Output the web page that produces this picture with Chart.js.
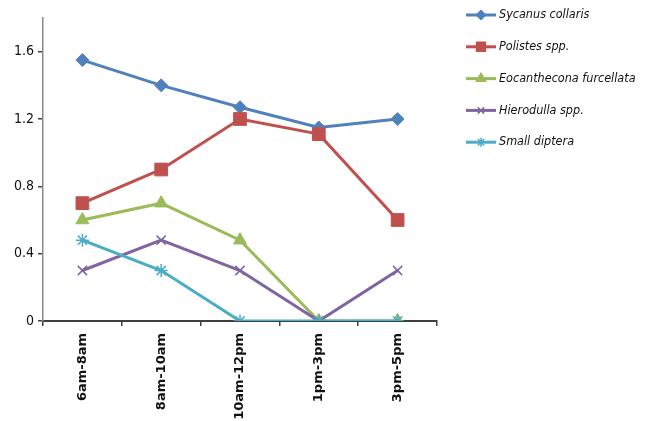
<!DOCTYPE html>
<html lang="en">
<head>
<meta charset="UTF-8">
<title>Predators by time of day</title>
<script src="https://cdn.jsdelivr.net/npm/chart.js"></script>
<style>
  html, body { margin: 0; padding: 0; background: #fff; }
  .wrap { width: 650px; height: 421px; position: relative; }
</style>
</head>
<body>
<div class="wrap">
  <canvas id="myChart" width="650" height="421"></canvas>
</div>
<script>
  // data
  const periodos = ["6am-8am", "8am-10am", "10am-12pm", "1pm-3pm", "3pm-5pm"];
  const sycanus = [1.55, 1.4, 1.27, 1.15, 1.2];
  const polistes = [0.7, 0.9, 1.2, 1.11, 0.6];
  const eocanthecona = [0.6, 0.7, 0.48, 0, 0];
  const hierodulla = [0.3, 0.48, 0.3, 0, 0.3];
  const diptera = [0.48, 0.3, 0, 0, 0];
  const yTicks = [0, 0.4, 0.8, 1.2, 1.6];
  const nomes = ["Sycanus collaris", "Polistes spp.", "Eocanthecona furcellata", "Hierodulla spp.", "Small diptera"];

  const cores = ["#4F81BD", "#C0504D", "#9BBB59", "#8064A2", "#4BACC6"];
  const marcadores = ["rectRot", "rect", "triangle", "crossRot", "star"];
  const raios = [6.5, 9, 7.5, 6.5, 6.5];
  const series = [sycanus, polistes, eocanthecona, hierodulla, diptera];

  // legend drawn at the right, like the original
  const legendaDireita = {
    id: "legendaDireita",
    afterDraw(chart) {
      const ctx = chart.ctx;
      ctx.save();
      nomes.forEach((nome, i) => {
        const y = 15 + i * 31.8;
        ctx.strokeStyle = cores[i];
        ctx.lineWidth = 3;
        ctx.beginPath();
        ctx.moveTo(466, y);
        ctx.lineTo(496, y);
        ctx.stroke();
        ctx.fillStyle = cores[i];
        ctx.lineWidth = 1.5;
        Chart.helpers.drawPoint(ctx, { pointStyle: marcadores[i], rotation: 0, radius: raios[i] * 0.7, borderWidth: 1.5 }, 481, y);
        ctx.fillStyle = "#111";
        ctx.font = "italic 12.5px 'Liberation Sans Narrow', 'DejaVu Sans Condensed', sans-serif";
        ctx.textBaseline = "middle";
        ctx.textAlign = "left";
        ctx.fillText(nome, 499, y);
      });
      ctx.restore();
    }
  };

  const ctx = document.getElementById("myChart");
  const data = {
    type: "line",
    data: {
      labels: periodos,
      datasets: series.map((s, i) => ({
        label: nomes[i],
        data: s,
        borderColor: cores[i],
        backgroundColor: cores[i],
        borderWidth: 3,
        pointStyle: marcadores[i],
        pointRadius: raios[i],
        pointBorderWidth: (i >= 3) ? 1.5 : 1,
        pointBorderColor: cores[i],
        pointBackgroundColor: cores[i],
        tension: 0,
        order: 5 - i
      }))
    },
    options: {
      responsive: false,
      animation: false,
      layout: { padding: { top: 18, right: 213, left: 0, bottom: 0 } },
      plugins: {
        legend: { display: false },
        tooltip: { enabled: false }
      },
      scales: {
        x: {
          offset: true,
          border: { color: "#404040", width: 2 },
          grid: { offset: true, drawOnChartArea: false, drawTicks: true, tickLength: 5, color: "#404040", lineWidth: 1.5 },
          ticks: {
            color: "#111",
            minRotation: 90,
            maxRotation: 90,
            padding: 7,
            font: { family: "'DejaVu Sans', sans-serif", size: 13, weight: "bold" }
          },
          afterFit(scale) { scale.height = 100; }
        },
        y: {
          min: 0,
          max: 1.8,
          border: { color: "#8a8a8a", width: 1.5 },
          grid: { drawOnChartArea: false, drawTicks: true, tickLength: 5, color: "#404040", lineWidth: 1.5 },
          afterBuildTicks(scale) { scale.ticks = yTicks.map(v => ({ value: v })); },
          ticks: {
            color: "#111",
            padding: 4,
            callback: (v) => String(v),
            font: { family: "'Liberation Sans Narrow', 'DejaVu Sans Condensed', sans-serif", size: 14 }
          },
          afterFit(scale) { scale.width = 43; }
        }
      }
    },
    plugins: [legendaDireita]
  };

  const chartInstance = new Chart(ctx, data);
</script>
</body>
</html>
